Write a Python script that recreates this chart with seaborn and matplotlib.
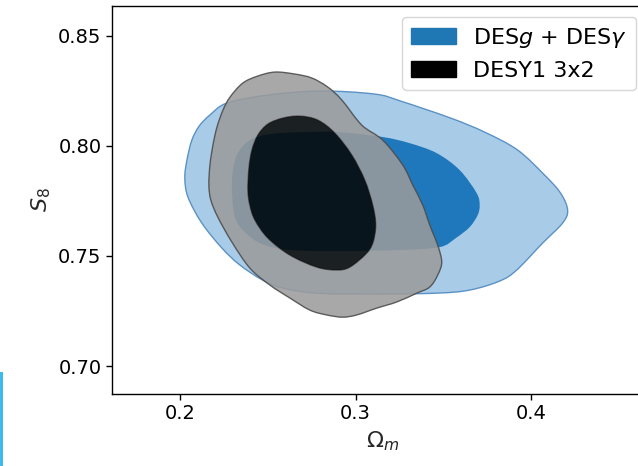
import numpy as np
import matplotlib
matplotlib.use("Agg")
import matplotlib.pyplot as plt
from matplotlib.path import Path
from matplotlib.patches import PathPatch, Patch, Rectangle
import seaborn as sns

# Contour outlines (Omega_m, S8)
desg_95_om = [0.2028, 0.2040, 0.2068, 0.2110, 0.2171, 0.2267, 0.2495, 0.2797, 0.3110, 0.3258,
              0.3542, 0.3736, 0.3923, 0.4077, 0.4168, 0.4208, 0.4179, 0.4065, 0.3918, 0.3821,
              0.3650, 0.3462, 0.3110, 0.2780, 0.2586, 0.2472, 0.2341, 0.2239, 0.2125, 0.2046]
desg_95_s8 = [0.7854, 0.7935, 0.8026, 0.8090, 0.8140, 0.8194, 0.8230, 0.8249, 0.8235, 0.8203,
              0.8126, 0.8062, 0.7981, 0.7867, 0.7785, 0.7708, 0.7649, 0.7558, 0.7436, 0.7386,
              0.7345, 0.7331, 0.7327, 0.7331, 0.7354, 0.7390, 0.7459, 0.7536, 0.7649, 0.7767]

desg_68_om = [0.2296, 0.2302, 0.2330, 0.2398, 0.2512, 0.2683, 0.2910, 0.3155, 0.3309, 0.3462,
              0.3593, 0.3690, 0.3707, 0.3696, 0.3650, 0.3571, 0.3479, 0.3252, 0.2910, 0.2626,
              0.2467, 0.2370, 0.2313]
desg_68_s8 = [0.7799, 0.7890, 0.7967, 0.8026, 0.8053, 0.8062, 0.8062, 0.8040, 0.8012, 0.7967,
              0.7890, 0.7785, 0.7731, 0.7686, 0.7631, 0.7581, 0.7540, 0.7527, 0.7522, 0.7527,
              0.7554, 0.7608, 0.7676]

y1_95_om = [0.2165, 0.2171, 0.2188, 0.2211, 0.2245, 0.2285, 0.2358, 0.2444, 0.2541, 0.2654,
            0.2751, 0.2842, 0.2922, 0.3036, 0.3155, 0.3269, 0.3326, 0.3383, 0.3423, 0.3468,
            0.3491, 0.3468, 0.3423, 0.3349, 0.3235, 0.3121, 0.3007, 0.2927, 0.2836, 0.2740,
            0.2626, 0.2512, 0.2398, 0.2296, 0.2216, 0.2176]
y1_95_s8 = [0.7822, 0.7913, 0.8003, 0.8085, 0.8162, 0.8221, 0.8285, 0.8317, 0.8335, 0.8326,
            0.8308, 0.8267, 0.8208, 0.8094, 0.8026, 0.7913, 0.7822, 0.7731, 0.7640, 0.7549,
            0.7472, 0.7413, 0.7359, 0.7331, 0.7291, 0.7263, 0.7232, 0.7222, 0.7232, 0.7254,
            0.7309, 0.7368, 0.7445, 0.7563, 0.7676, 0.7754]

y1_68_om = [0.2387, 0.2393, 0.2410, 0.2444, 0.2501, 0.2586, 0.2683, 0.2785, 0.2882, 0.2979,
            0.3053, 0.3098, 0.3115, 0.3098, 0.3058, 0.2967, 0.2893, 0.2780, 0.2626, 0.2501,
            0.2427, 0.2398]
y1_68_s8 = [0.7799, 0.7899, 0.7981, 0.8049, 0.8099, 0.8126, 0.8135, 0.8117, 0.8058, 0.7958,
            0.7844, 0.7731, 0.7640, 0.7558, 0.7508, 0.7449, 0.7436, 0.7449, 0.7504, 0.7581,
            0.7663, 0.7731]

labels = [r"DES$g$ + DES$\gamma$", "DESY1 3x2"]
xticks = [0.2, 0.3, 0.4]
yticks = [0.70, 0.75, 0.80, 0.85]


def smooth_loop(xs, ys, reverse=False):
    # closed Bezier loop passing through the read-off points (Catmull-Rom tangents)
    p = np.column_stack([xs, ys])
    if reverse:
        p = p[::-1]
    n = len(p)
    verts = [p[0]]
    codes = [Path.MOVETO]
    for i in range(n):
        p0, p1, p2, p3 = p[i - 1], p[i], p[(i + 1) % n], p[(i + 2) % n]
        verts += [p1 + (p2 - p0) / 6, p2 - (p3 - p1) / 6, p2]
        codes += [Path.CURVE4] * 3
    verts.append(p[0])
    codes.append(Path.CLOSEPOLY)
    return np.array(verts), codes


def signed_area(xs, ys):
    x, y = np.asarray(xs), np.asarray(ys)
    return 0.5 * np.sum(x * np.roll(y, -1) - np.roll(x, -1) * y)


def loop_path(xs, ys):
    v, c = smooth_loop(xs, ys)
    return Path(v, c)


def ring_path(oxs, oys, ixs, iys):
    # outer band with the inner region cut out (opposite winding)
    rev = np.sign(signed_area(oxs, oys)) == np.sign(signed_area(ixs, iys))
    vo, co = smooth_loop(oxs, oys)
    vi, ci = smooth_loop(ixs, iys, reverse=rev)
    return Path(np.vstack([vo, vi]), co + ci)


sns.set_style("ticks", {"axes.edgecolor": "black", "xtick.color": "black",
                        "ytick.color": "black", "text.color": "black"})
plt.rcParams["font.family"] = ["DejaVu Sans"]

fig = plt.figure(figsize=(6.38, 4.66), dpi=100)
ax = fig.add_axes([0.1755, 0.1545, 0.8496, 0.8326])

# DESg + DESgamma
ax.add_patch(PathPatch(loop_path(desg_95_om, desg_95_s8), facecolor="#a8cbe8",
                       edgecolor="#5b92c4", lw=1.0, zorder=2))
ax.add_patch(PathPatch(loop_path(desg_68_om, desg_68_s8), facecolor="#1f78bb",
                       edgecolor="none", zorder=3))

# DESY1 3x2 drawn on top, semi-transparent
ax.add_patch(PathPatch(ring_path(y1_95_om, y1_95_s8, y1_68_om, y1_68_s8),
                       facecolor="#9b9b9b", edgecolor="#4a4a4a", lw=1.0,
                       alpha=0.87, zorder=4))
ax.add_patch(PathPatch(loop_path(y1_68_om, y1_68_s8), facecolor="#060606",
                       edgecolor="none", alpha=0.87, zorder=5))

ax.set_xlim(0.1613, 0.47)
ax.set_ylim(0.6873, 0.8635)
ax.set_xticks(xticks)
ax.set_yticks(yticks)
ax.set_xticklabels([f"{t:.1f}" for t in xticks])
ax.set_yticklabels([f"{t:.2f}" for t in yticks])
ax.tick_params(labelsize=14, width=1, length=4)
for s in ax.spines.values():
    s.set_linewidth(1.0)
ax.set_xlabel(r"$\Omega_m$", fontsize=16)
ax.set_ylabel(r"$S_8$", fontsize=16)

handles = [Patch(color="#1f77b4"), Patch(color="black")]
ax.legend(handles, labels, loc="upper right", fontsize=16,
          bbox_to_anchor=(636 / 638, 1 - 17 / 466), bbox_transform=fig.transFigure,
          borderaxespad=0)

# thin cyan strip at the left edge of the picture
fig.patches.append(Rectangle((0, 0), 3 / 638, 94 / 466, transform=fig.transFigure,
                             facecolor="#3cbbec", edgecolor="none"))

fig.savefig("out.png", dpi=100)
